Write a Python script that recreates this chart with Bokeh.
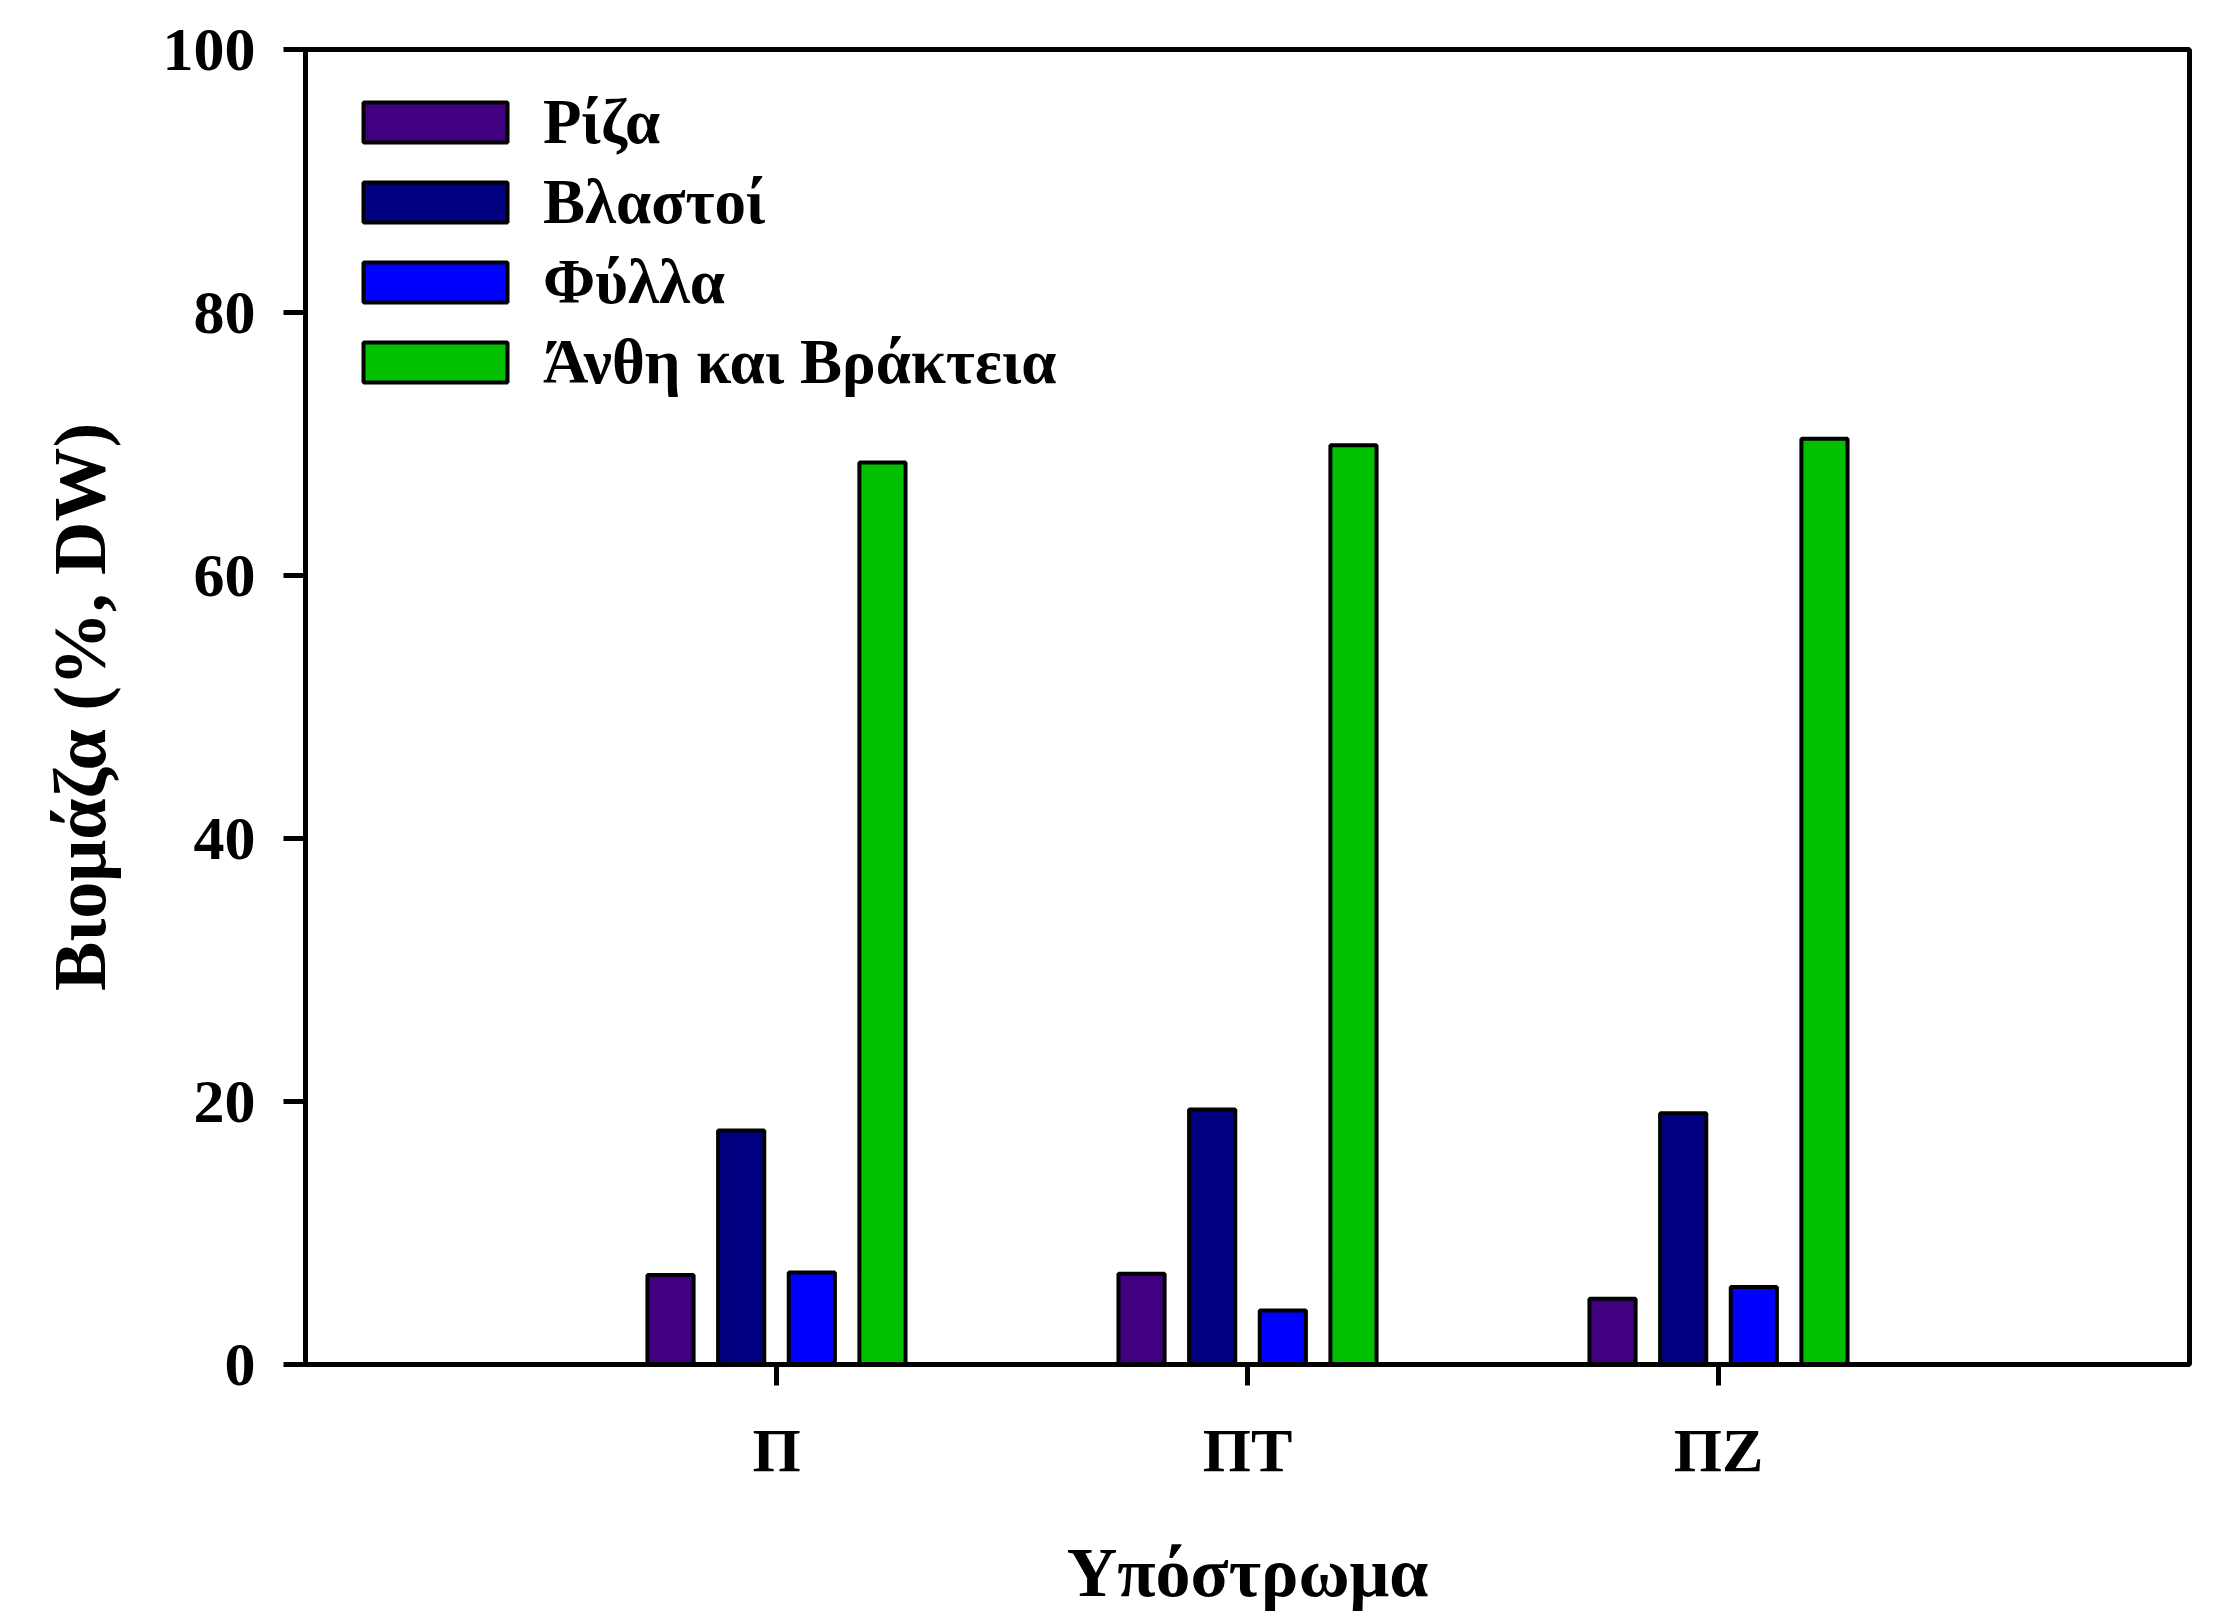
from bokeh.plotting import figure
from bokeh.models import Range1d, FixedTicker, Legend, LegendItem
from bokeh.embed import file_html
from bokeh.resources import INLINE

categories = ["Π", "ΠΤ", "ΠΖ"]
series_names = ["Ρίζα", "Βλαστοί", "Φύλλα", "Άνθη και Βράκτεια"]
riza = [6.8, 6.9, 5.0]
vlastoi = [17.8, 19.4, 19.1]
fylla = [7.0, 4.1, 5.9]
anthi = [68.6, 69.9, 70.4]
y_ticks = [0, 20, 40, 60, 80, 100]

series_values = [riza, vlastoi, fylla, anthi]
colors = ["#40007F", "#000080", "#0000FF", "#00C000"]
offsets = [-0.225, -0.075, 0.075, 0.225]
bar_width = 0.098

FONT = "Liberation Serif"

p = figure(width=2214, height=1615, x_range=Range1d(0, 4), y_range=Range1d(0, 100),
           output_backend="svg", toolbar_location=None,
           min_border_left=305, min_border_right=25, min_border_top=49, min_border_bottom=251)
p.grid.visible = False
p.outline_line_color = "black"
p.outline_line_width = 5
p.background_fill_color = "white"
p.border_fill_color = "white"

xpos = [i + 1 for i in range(len(categories))]
items = []
for name, vals, col, off in zip(series_names, series_values, colors, offsets):
    r = p.vbar(x=[x + off for x in xpos], top=vals, bottom=0, width=bar_width,
               fill_color=col, line_color="black", line_width=4)
    items.append(LegendItem(label=name, renderers=[r]))

legend = Legend(items=items, location=(40, 962), padding=0, margin=0,
                glyph_width=180, glyph_height=50, label_height=80, spacing=0,
                label_standoff=18, border_line_alpha=0, background_fill_alpha=0,
                label_text_font=FONT, label_text_font_style="bold",
                label_text_font_size="63px", label_text_color="black")
p.add_layout(legend)

# x axis
p.xaxis.ticker = FixedTicker(ticks=xpos)
p.xaxis.major_label_overrides = {x: c for x, c in zip(xpos, categories)}
p.xaxis.axis_label = "Υπόστρωμα"
p.xaxis.minor_tick_line_color = None
p.xaxis.major_tick_out = 21
p.xaxis.major_tick_in = 0
p.xaxis.major_label_standoff = 30

# y axis
p.yaxis.ticker = FixedTicker(ticks=y_ticks)
p.yaxis.axis_label = "Βιομάζα (%, DW)"
p.yaxis.minor_tick_line_color = None
p.yaxis.major_tick_out = 22
p.yaxis.major_tick_in = 0
p.yaxis.major_label_standoff = 28

for ax in [p.xaxis[0], p.yaxis[0]]:
    ax.axis_line_width = 5
    ax.axis_line_color = "black"
    ax.major_tick_line_width = 5
    ax.major_tick_line_color = "black"
    ax.major_label_text_font = FONT
    ax.major_label_text_font_style = "bold"
    ax.major_label_text_font_size = "62px"
    ax.major_label_text_color = "black"
    ax.axis_label_text_font = FONT
    ax.axis_label_text_font_style = "bold"
    ax.axis_label_text_color = "black"

p.xaxis.axis_label_text_font_size = "70px"
p.yaxis.axis_label_text_font_size = "74px"
p.xaxis.axis_label_standoff = 47
p.yaxis.axis_label_standoff = 39

open("out.html", "w").write(file_html(p, INLINE))
